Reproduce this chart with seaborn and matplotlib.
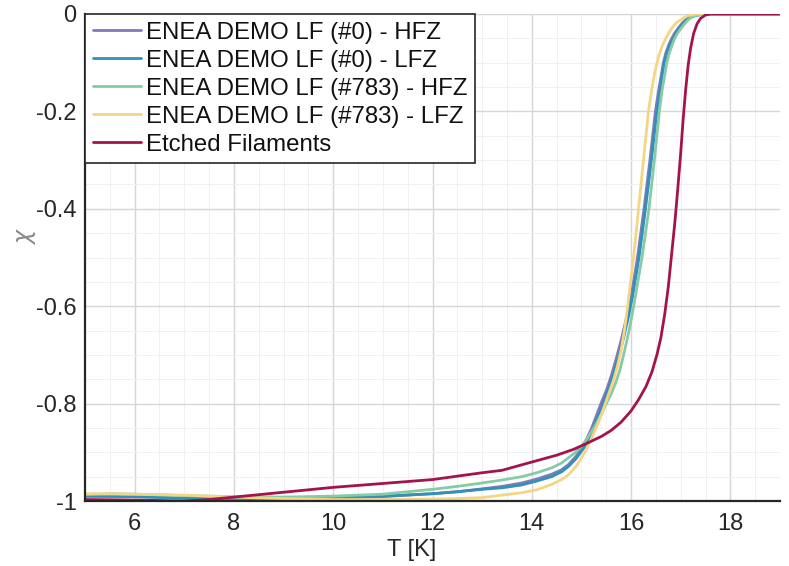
import matplotlib
matplotlib.use("Agg")
import matplotlib.pyplot as plt
import numpy as np
import pandas as pd
import seaborn as sns
from matplotlib.ticker import MultipleLocator, FixedLocator, FixedFormatter

# Sample names and line colours
labels = [
    "ENEA DEMO LF (#0) - HFZ",
    "ENEA DEMO LF (#0) - LFZ",
    "ENEA DEMO LF (#783) - HFZ",
    "ENEA DEMO LF (#783) - LFZ",
    "Etched Filaments",
]
colors = ["#7f7bb8", "#3390b8", "#86cba6", "#f3d684", "#a3134c"]

# Susceptibility curves chi(T)
T_hfz0 = [5, 6, 7, 8, 9, 10, 11, 12, 12.5, 13, 13.4, 13.8, 14.1, 14.4, 14.6, 14.74,
          14.9, 15.07, 15.2, 15.3, 15.4, 15.51, 15.61, 15.7, 15.8, 15.9, 16.0, 16.13,
          16.26, 16.38, 16.49, 16.55, 16.6, 16.65, 16.7, 16.76, 16.82, 16.88, 16.95,
          17.02, 17.1, 17.2, 17.3, 17.45, 19]
chi_hfz0 = [-0.99, -0.991, -0.994, -0.995, -0.995, -0.994, -0.991, -0.985, -0.981,
            -0.975, -0.97, -0.963, -0.955, -0.945, -0.936, -0.925, -0.907, -0.88,
            -0.852, -0.825, -0.798, -0.771, -0.74, -0.708, -0.67, -0.627, -0.58, -0.50,
            -0.40, -0.30, -0.20, -0.16, -0.13, -0.10, -0.08, -0.063, -0.05, -0.039,
            -0.029, -0.02, -0.012, -0.006, -0.003, 0.0, 0.0]

T_lfz0 = [5, 6, 7, 8, 9, 10, 11, 12, 12.5, 13, 13.4, 13.8, 14.1, 14.4, 14.6, 14.74,
          14.9, 15.07, 15.2, 15.34, 15.45, 15.55, 15.65, 15.75, 15.85, 15.95, 16.03,
          16.16, 16.29, 16.41, 16.52, 16.58, 16.62, 16.67, 16.72, 16.78, 16.85, 16.91,
          16.98, 17.05, 17.12, 17.22, 17.3, 17.45, 19]
chi_lfz0 = [-0.99, -0.991, -0.994, -0.995, -0.995, -0.994, -0.99, -0.985, -0.981,
            -0.976, -0.973, -0.967, -0.959, -0.95, -0.94, -0.929, -0.912, -0.888,
            -0.862, -0.826, -0.798, -0.77, -0.74, -0.704, -0.665, -0.62, -0.58, -0.50,
            -0.40, -0.30, -0.20, -0.16, -0.13, -0.10, -0.08, -0.063, -0.05, -0.039,
            -0.029, -0.02, -0.012, -0.006, -0.003, 0.0, 0.0]

T_hfz783 = [5, 5.5, 6, 7, 8, 9, 10, 11, 12, 12.5, 13, 13.4, 13.8, 14.1, 14.4, 14.6,
            14.74, 14.87, 15.0, 15.14, 15.28, 15.4, 15.5, 15.6, 15.68, 15.77, 15.85,
            15.96, 16.07, 16.22, 16.36, 16.47, 16.57, 16.62, 16.67, 16.72, 16.77, 16.83,
            16.88, 16.94, 17.01, 17.08, 17.15, 17.23, 17.3, 17.5, 19]
chi_hfz783 = [-0.987, -0.985, -0.986, -0.989, -0.991, -0.992, -0.99, -0.986, -0.976,
              -0.97, -0.963, -0.957, -0.95, -0.942, -0.932, -0.922, -0.911, -0.901,
              -0.888, -0.868, -0.845, -0.822, -0.80, -0.78, -0.76, -0.733, -0.70, -0.65,
              -0.59, -0.50, -0.40, -0.30, -0.20, -0.16, -0.13, -0.10, -0.08, -0.063,
              -0.05, -0.039, -0.029, -0.02, -0.012, -0.006, -0.003, 0.0, 0.0]

T_lfz783 = [5, 6, 7, 8, 9, 10, 11, 12, 12.5, 13, 13.4, 13.8, 14.1, 14.4, 14.6, 14.74,
            14.9, 15.07, 15.2, 15.34, 15.46, 15.58, 15.65, 15.72, 15.8, 15.87, 15.93,
            16.05, 16.15, 16.25, 16.35, 16.41, 16.45, 16.5, 16.56, 16.63, 16.7, 16.76,
            16.82, 16.9, 17.0, 17.07, 17.13, 17.3, 19]
chi_lfz783 = [-0.985, -0.986, -0.988, -0.992, -0.995, -0.997, -0.997, -0.996, -0.995,
              -0.993, -0.988, -0.983, -0.977, -0.966, -0.956, -0.946, -0.928, -0.90,
              -0.872, -0.84, -0.806, -0.771, -0.751, -0.725, -0.69, -0.648, -0.60, -0.50,
              -0.40, -0.30, -0.20, -0.16, -0.135, -0.11, -0.085, -0.065, -0.05, -0.039,
              -0.029, -0.019, -0.012, -0.007, -0.004, 0.0, 0.0]

T_etched = [5, 6, 7, 7.5, 8, 9, 10, 11, 12, 13, 13.4, 14, 14.5, 14.84, 15.1, 15.41,
            15.6, 15.8, 16.0, 16.15, 16.3, 16.42, 16.52, 16.6, 16.68, 16.75, 16.82,
            16.88, 16.94, 17.0, 17.05, 17.1, 17.15, 17.2, 17.26, 17.33, 17.4, 17.5,
            17.6, 19]
chi_etched = [-0.997, -0.998, -1.0, -0.997, -0.992, -0.982, -0.972, -0.964, -0.956,
              -0.942, -0.937, -0.92, -0.906, -0.894, -0.882, -0.867, -0.855, -0.838,
              -0.815, -0.792, -0.765, -0.735, -0.70, -0.665, -0.615, -0.56, -0.49,
              -0.43, -0.36, -0.285, -0.215, -0.155, -0.105, -0.07, -0.04, -0.02,
              -0.009, -0.002, 0.0, 0.0]

x_ticks = [6, 8, 10, 12, 14, 16, 18]
y_ticks = [0, -0.2, -0.4, -0.6, -0.8, -1]
y_tick_labels = ["0", "-0.2", "-0.4", "-0.6", "-0.8", "-1"]

series = [(T_hfz0, chi_hfz0), (T_lfz0, chi_lfz0), (T_hfz783, chi_hfz783),
          (T_lfz783, chi_lfz783), (T_etched, chi_etched)]
df = pd.concat(
    [pd.DataFrame({"T": t, "chi": c, "sample": lab}) for lab, (t, c) in zip(labels, series)],
    ignore_index=True,
)

sns.set_theme(style="white")
plt.rcParams["font.family"] = ["Liberation Sans", "DejaVu Sans"]

fig = plt.figure(figsize=(7.89, 5.66), dpi=100)
ax = fig.add_axes([85 / 789, 1 - 501 / 566, 695 / 789, 487 / 566])

sns.lineplot(data=df, x="T", y="chi", hue="sample", hue_order=labels, palette=colors,
             estimator=None, linewidth=2, ax=ax)

ax.set_xlim(5, 19)
ax.set_ylim(-1, 0)
ax.xaxis.set_major_locator(FixedLocator(x_ticks))
ax.xaxis.set_minor_locator(MultipleLocator(0.5))
ax.yaxis.set_major_locator(FixedLocator(y_ticks))
ax.yaxis.set_major_formatter(FixedFormatter(y_tick_labels))
ax.yaxis.set_minor_locator(MultipleLocator(0.05))

ax.grid(True, which="major", color="#d6d6d6", linewidth=1.0)
ax.grid(True, which="minor", color="#f0f0f0", linewidth=0.7)
ax.set_axisbelow(True)

for side in ("top", "right"):
    ax.spines[side].set_visible(False)
for side in ("left", "bottom"):
    ax.spines[side].set_color("#262626")
    ax.spines[side].set_linewidth(1.6)

ax.tick_params(which="major", direction="in", length=5, width=1.2, color="#262626",
               labelsize=17, labelcolor="#262626")
ax.tick_params(axis="y", which="major", pad=6)
ax.tick_params(axis="x", which="major", pad=9)
ax.tick_params(which="minor", length=0)

ax.set_xlabel("")
ax.set_ylabel("")
fig.text(412 / 789, 1 - 550 / 566, "T [K]", ha="center", va="center", fontsize=17,
         color="#262626")
fig.text(27 / 789, 1 - 236 / 566, r"$\chi$", ha="center", va="center", fontsize=17,
         color="#8a8a8a", rotation=90)

leg = ax.legend(loc="upper left", bbox_to_anchor=(0, 1), borderaxespad=0,
                fontsize=17.3, frameon=True, fancybox=False, framealpha=1,
                handlelength=2.0, handletextpad=0.22, labelspacing=0.25,
                borderpad=0.32, title=None)
leg.get_frame().set_edgecolor("#262626")
leg.get_frame().set_linewidth(1.2)
for line in leg.get_lines():
    line.set_linewidth(2)
for txt in leg.get_texts():
    txt.set_color("#111111")

fig.savefig("out.png", dpi=100)
